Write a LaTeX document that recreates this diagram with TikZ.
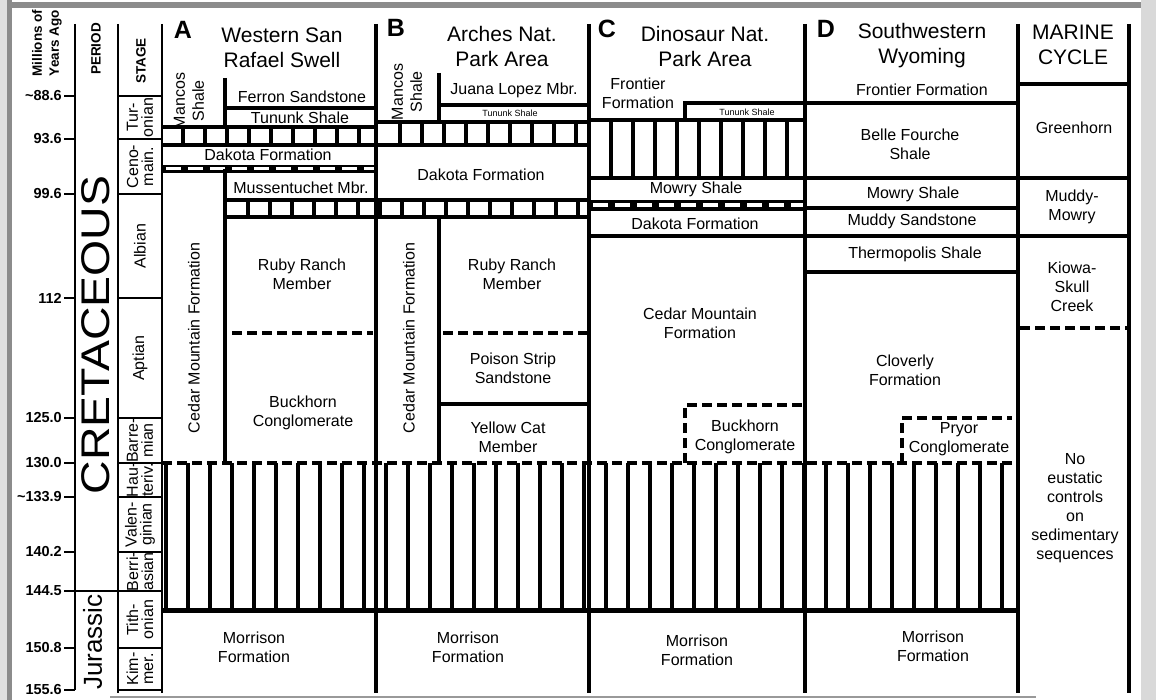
\documentclass[tikz,border=0pt]{standalone}
\usepackage{fontspec}
\setmainfont{Liberation Sans}

\begin{document}
\begin{tikzpicture}[
      x=1pt, y=-1pt,
      lbl/.style={inner sep=0pt, align=center, font=\fontsize{16}{19}\selectfont},
      vlbl/.style={lbl, rotate=90},
      titulo/.style={inner sep=0pt, align=center, font=\fontsize{21}{25}\selectfont},
      letra/.style={inner sep=0pt, font=\bfseries\fontsize{25}{25}\selectfont},
      miudo/.style={inner sep=0pt, font=\fontsize{9}{9}\selectfont},
      cab/.style={inner sep=0pt, align=center, rotate=90, font=\bfseries\fontsize{13.5}{17}\selectfont},
      idade/.style={inner sep=0pt, anchor=east, font=\bfseries\fontsize{14.5}{14.5}\selectfont},
      estagio/.style={inner sep=0pt, align=center, rotate=90, font=\fontsize{16}{15}\selectfont},
      coluna/.style={line width=4.5pt},
      escala/.style={line width=2.8pt},
      contato/.style={line width=4pt},
      tracejado/.style={line width=4pt, dash pattern=on 10pt off 5pt}
  ]
      \useasboundingbox (0,0) rectangle (1156,700);
      % Moldura
      \fill[white] (0,0) rectangle (1156,700);
      \fill[black!12] (0,0) rectangle (7,700);
      \fill[black!45] (7,0) rectangle (12,700);
      \fill[black!45] (7,2) rectangle (1142,8);
      \fill[black!15] (1141,0) rectangle (1156,700);
      \draw[black!40, line width=1.5pt] (110,697) -- (1036,697);

      % Escala de idades e estágios
      \draw[escala] (75,24) -- (75,690);
      \draw[escala] (118,24) -- (118,693);
      \draw[escala] (162,24) -- (162,693);
      \foreach \a/\y [count=\i] in {{\textasciitilde88.6}/96, {93.6}/139, {99.6}/194,
          {112}/298, {125.0}/418, {130.0}/463, {\textasciitilde133.9}/497, {140.2}/552,
          {144.5}/591, {150.8}/648, {155.6}/690} {
        \draw[escala] (64,\y) -- (75,\y);
        \node[idade] (idade\i) at (62,\y) {\a};
      }
      \foreach \y in {96,139,194,298,418,463,497,552,648,690}
        \draw[escala] (118,\y) -- (162,\y);
      \draw[escala] (64,591) -- (162,591);
      \foreach \t/\y [count=\i] in {{Tur-\\onian}/117.5, {Ceno-\\main.}/166.5, Albian/246,
          Aptian/358, {Barre-\\mian}/440.5, {Hau-\\teriv.}/480, {Valen-\\ginian}/524.5,
          {Berri-\\asian}/571.5, {Tith-\\onian}/619.5, {Kim-\\mer.}/669}
        \node[estagio] (estagio\i) at (140,\y) {\t};

      \node[cab] (milhoes) at (47,43) {Millions of\\Years Ago};
      \node[cab] (periodo) at (96,49) {PERIOD};
      \node[cab] (stage) at (141,61) {STAGE};
      \node[vlbl, font=\fontsize{40}{40}\selectfont, xscale=1.16] (cretaceo) at (96,335) {CRETACEOUS};
      \node[vlbl, font=\fontsize{26}{26}\selectfont] (jurassico) at (92.5,642) {Jurassic};

      % Colunas
      \foreach \x in {376,589,805,1018,1129}
        \draw[coluna] (\x,24) -- (\x,693);

      % Coluna A
      \draw[contato] (225,78) -- (225,127);
      \draw[contato] (225,108) -- (376,108);
      \draw[contato] (162,127) -- (376,127);
      \draw[contato] (162,145) -- (589,145);
      \foreach \x in {183,205,...,365}
        \draw[contato] (\x,127) -- (\x,145);
      \draw[line width=8pt] (162,169) -- (376,169);
      \draw[white, line width=3pt, dash pattern=on 15pt off 7pt] (166,169) -- (374,169);
      \draw[contato] (225,169) -- (225,463);
      \draw[contato] (225,200) -- (589,200);
      \draw[contato] (225,217) -- (589,217);
      \foreach \x in {248,270,...,580}
        \draw[contato] (\x,200) -- (\x,217);
      \draw[tracejado] (232,333) -- (373,333);

      % Coluna B
      \draw[contato] (439,73) -- (439,122);
      \draw[contato] (439,105) -- (589,105);
      \draw[contato] (376,122) -- (589,122);
      \foreach \x in {400,422,...,580}
        \draw[contato] (\x,122) -- (\x,145);
      \draw[contato] (439,217) -- (439,463);
      \draw[tracejado] (443,333) -- (587,333);
      \draw[contato] (439,404) -- (589,404);

      % Coluna C
      \draw[contato] (685,122) -- (685,103) -- (1018,103);
      \draw[contato] (589,120) -- (805,120);
      \foreach \x in {611,633,...,790}
        \draw[contato] (\x,120) -- (\x,178);
      \draw[contato] (589,178) -- (1129,178);
      \draw[line width=11pt] (589,205.5) -- (805,205.5);
      \draw[white, line width=4pt, dash pattern=on 15pt off 7pt] (593,205.5) -- (803,205.5);
      \draw[contato] (589,236) -- (1129,236);
      \draw[tracejado] (685,463) -- (685,405) -- (805,405);

      % Coluna D e ciclo marinho
      \draw[contato] (805,208) -- (1018,208);
      \draw[contato] (805,272) -- (1018,272);
      \draw[tracejado] (902,463) -- (902,418) -- (1012,418);
      \draw[contato] (1018,84) -- (1129,84);
      \draw[tracejado] (1020,328) -- (1129,328);

      % Hachura inferior
      \draw[tracejado] (162,463) -- (1018,463);
      \foreach \x in {166,188,...,1010}
        \draw[contato] (\x,463) -- (\x,610);
      \draw[line width=5pt] (162,610) -- (1018,610);

      % Títulos
      \node[letra] (letraA) at (183,30) {A};
      \node[titulo] (tituloA) at (282,48) {Western San\\Rafael Swell};
      \node[letra] (letraB) at (396,28) {B};
      \node[titulo] (tituloB) at (502,46) {Arches Nat.\\Park Area};
      \node[letra] (letraC) at (607,29) {C};
      \node[titulo] (tituloC) at (705,46) {Dinosaur Nat.\\Park Area};
      \node[letra] (letraD) at (826,29) {D};
      \node[titulo] (tituloD) at (922,46) {Southwestern\\Wyoming};
      \node[titulo] (tituloM) at (1073,45) {MARINE\\CYCLE};

      % Unidades A
      \node[vlbl] (mancosA) at (189,101) {Mancos\\Shale};
      \node[lbl] (ferron) at (302,97) {Ferron Sandstone};
      \node[lbl] (tununkA) at (300,118) {Tununk Shale};
      \node[lbl] (dakotaA) at (268,155) {Dakota Formation};
      \node[lbl] (mussentuchet) at (301,188) {Mussentuchet Mbr.};
      \node[vlbl] (cedarA) at (194,338) {Cedar Mountain Formation};
      \node[lbl] (rubyA) at (302,274) {Ruby Ranch\\Member};
      \node[lbl] (buckhornA) at (303,413) {Buckhorn\\Conglomerate};
      \node[lbl] (morrisonA) at (254,647) {Morrison\\Formation};

      % Unidades B
      \node[vlbl] (mancosB) at (407,92) {Mancos\\Shale};
      \node[lbl] (juana) at (514,90) {Juana Lopez Mbr.};
      \node[miudo] (tununkB) at (510,113) {Tununk Shale};
      \node[lbl] (dakotaB) at (481,175) {Dakota Formation};
      \node[vlbl] (cedarB) at (409,338) {Cedar Mountain Formation};
      \node[lbl] (rubyB) at (512,274) {Ruby Ranch\\Member};
      \node[lbl] (poison) at (513,368) {Poison Strip\\Sandstone};
      \node[lbl] (yellowcat) at (508,437) {Yellow Cat\\Member};
      \node[lbl] (morrisonB) at (468,647) {Morrison\\Formation};

      % Unidades C
      \node[lbl] (frontierC) at (638,93) {Frontier\\Formation};
      \node[miudo] (tununkC) at (747,112) {Tununk Shale};
      \node[lbl] (mowryC) at (696,189) {Mowry Shale};
      \node[lbl] (dakotaC) at (695,224) {Dakota Formation};
      \node[lbl] (cedarC) at (700,323) {Cedar Mountain\\Formation};
      \node[lbl] (buckhornC) at (745,437) {Buckhorn\\Conglomerate};
      \node[lbl] (morrisonC) at (697,650) {Morrison\\Formation};

      % Unidades D
      \node[lbl] (frontierD) at (922,90) {Frontier Formation};
      \node[lbl] (bellefourche) at (910,144) {Belle Fourche\\Shale};
      \node[lbl] (mowryD) at (913,194) {Mowry Shale};
      \node[lbl] (muddy) at (912,221) {Muddy Sandstone};
      \node[lbl] (thermopolis) at (915,254) {Thermopolis Shale};
      \node[lbl] (cloverly) at (905,370) {Cloverly\\Formation};
      \node[lbl] (pryor) at (959,439) {Pryor\\Conglomerate};
      \node[lbl] (morrisonD) at (933,646) {Morrison\\Formation};

      % Ciclo marinho
      \node[lbl] (greenhorn) at (1074,128) {Greenhorn};
      \node[lbl] (muddymowry) at (1072,207) {Muddy-\\Mowry};
      \node[lbl] (kiowa) at (1072,287) {Kiowa-\\Skull\\Creek};
      \node[lbl] (eustatico) at (1075,508) {No\\eustatic\\controls\\on\\sedimentary\\sequences};
  \end{tikzpicture}
\end{document}
